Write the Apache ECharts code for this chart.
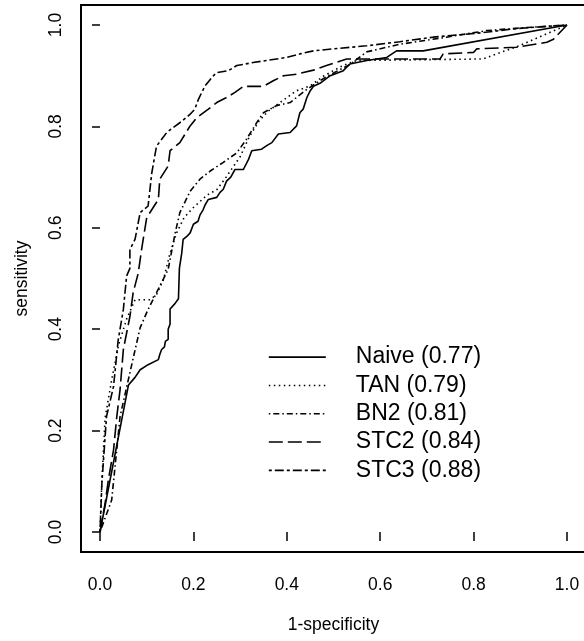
<!DOCTYPE html>
<html>
<head>
<meta charset="utf-8">
<script src="https://cdn.jsdelivr.net/npm/echarts@6/dist/echarts.min.js"></script>
<style>
html,body{margin:0;padding:0;background:#fff;}
#chart{width:584px;height:641px;}
</style>
</head>
<body>
<div id="chart"></div>
<script>
var seriesNames = ['Naive (0.77)', 'TAN (0.79)', 'BN2 (0.81)', 'STC2 (0.84)', 'STC3 (0.88)'];
var xTicks = [0, 0.2, 0.4, 0.6, 0.8, 1.0];
var yTicks = [0, 0.2, 0.4, 0.6, 0.8, 1.0];

var naive = [[0,0],[0.061,0.29],[0.075,0.305],[0.086,0.32],[0.103,0.33],[0.125,0.34],[0.128,0.35],[0.132,0.36],[0.138,0.365],[0.14,0.376],[0.146,0.38],[0.146,0.40],[0.15,0.41],[0.15,0.44],[0.16,0.45],[0.168,0.46],[0.17,0.52],[0.175,0.55],[0.178,0.577],[0.186,0.583],[0.193,0.59],[0.2,0.607],[0.21,0.613],[0.214,0.625],[0.221,0.636],[0.225,0.645],[0.232,0.656],[0.25,0.66],[0.257,0.67],[0.264,0.676],[0.271,0.692],[0.28,0.70],[0.289,0.715],[0.307,0.715],[0.318,0.735],[0.325,0.752],[0.346,0.755],[0.357,0.762],[0.368,0.768],[0.382,0.785],[0.407,0.788],[0.421,0.801],[0.428,0.827],[0.435,0.834],[0.443,0.857],[0.45,0.87],[0.457,0.879],[0.471,0.885],[0.493,0.9],[0.521,0.91],[0.535,0.923],[0.571,0.93],[0.614,0.936],[0.635,0.949],[0.692,0.949],[1,1]];

var tan = [[0,0],[0.004,0.1],[0.011,0.225],[0.025,0.3],[0.04,0.37],[0.057,0.42],[0.075,0.458],[0.107,0.458],[0.121,0.468],[0.136,0.498],[0.15,0.55],[0.164,0.59],[0.18,0.62],[0.2,0.64],[0.23,0.665],[0.25,0.675],[0.27,0.7],[0.3,0.74],[0.32,0.78],[0.34,0.81],[0.36,0.83],[0.39,0.85],[0.42,0.87],[0.45,0.88],[0.48,0.9],[0.52,0.92],[0.55,0.93],[0.82,0.933],[0.9,0.96],[1,1]];

var bn2 = [[0,0],[0.025,0.063],[0.043,0.228],[0.064,0.314],[0.086,0.403],[0.103,0.439],[0.121,0.472],[0.146,0.518],[0.161,0.59],[0.171,0.63],[0.193,0.672],[0.214,0.696],[0.236,0.712],[0.264,0.729],[0.293,0.748],[0.314,0.775],[0.336,0.808],[0.35,0.827],[0.378,0.841],[0.407,0.847],[0.443,0.873],[0.471,0.89],[0.489,0.9],[0.535,0.922],[0.571,0.947],[0.642,0.962],[0.742,0.976],[0.828,0.989],[0.914,0.995],[1,1]];

var stc2 = [[0,0],[0.011,0.057],[0.018,0.103],[0.029,0.162],[0.036,0.228],[0.043,0.281],[0.05,0.36],[0.064,0.425],[0.071,0.472],[0.082,0.511],[0.089,0.557],[0.093,0.58],[0.1,0.62],[0.125,0.656],[0.128,0.696],[0.146,0.722],[0.15,0.752],[0.171,0.768],[0.193,0.801],[0.207,0.817],[0.232,0.834],[0.25,0.847],[0.271,0.857],[0.289,0.867],[0.307,0.879],[0.35,0.879],[0.371,0.89],[0.393,0.9],[0.421,0.903],[0.457,0.911],[0.485,0.92],[0.528,0.933],[0.728,0.933],[0.735,0.943],[0.8,0.946],[0.807,0.953],[0.892,0.956],[0.957,0.966],[0.971,0.972],[1,1]];

var stc3 = [[0,0],[0.004,0.096],[0.014,0.228],[0.029,0.287],[0.039,0.379],[0.05,0.439],[0.057,0.505],[0.064,0.52],[0.064,0.557],[0.075,0.577],[0.086,0.63],[0.103,0.643],[0.111,0.709],[0.121,0.761],[0.143,0.788],[0.157,0.798],[0.175,0.81],[0.193,0.824],[0.203,0.834],[0.211,0.854],[0.225,0.88],[0.243,0.9],[0.25,0.906],[0.275,0.91],[0.293,0.92],[0.328,0.926],[0.357,0.93],[0.4,0.936],[0.428,0.943],[0.457,0.949],[0.5,0.953],[0.571,0.959],[0.642,0.967],[0.713,0.976],[0.82,0.985],[0.892,0.993],[1,1]];

var allData = [naive, tan, bn2, stc2, stc3];
var dashes = ['solid', [1.5, 3.5], [1.5, 3, 6, 3], [14, 5], [3, 3, 9, 3]];

var FONT = 'Liberation Sans, Arial, Helvetica, sans-serif';
var chart = echarts.init(document.getElementById('chart'), null, {renderer: 'canvas'});

var series = seriesNames.map(function (n, i) {
  return {
    name: n,
    type: 'line',
    data: allData[i],
    symbol: 'none',
    showSymbol: false,
    clip: false,
    animation: false,
    lineStyle: {color: '#000', width: 1.6, type: dashes[i]},
    itemStyle: {color: '#000'}
  };
});

chart.setOption({
  animation: false,
  backgroundColor: '#fff',
  grid: {left: 100, right: 17, top: 25, bottom: 109, containLabel: false},
  xAxis: {
    type: 'value', min: 0, max: 1, interval: 0.2, offset: 20,
    name: '1-specificity', nameLocation: 'middle', nameGap: 64,
    nameTextStyle: {color: '#000', fontSize: 17.5, fontFamily: FONT},
    axisLine: {show: false},
    axisTick: {show: true, length: 9, lineStyle: {color: '#000', width: 1.5}},
    axisLabel: {color: '#000', fontSize: 17.5, fontFamily: FONT, margin: 24,
      formatter: function (v) { return v.toFixed(1); }},
    splitLine: {show: false}
  },
  yAxis: {
    type: 'value', min: 0, max: 1, interval: 0.2, offset: 19,
    name: 'sensitivity', nameLocation: 'middle', nameGap: 50, nameRotate: 90,
    nameTextStyle: {color: '#000', fontSize: 17.5, fontFamily: FONT},
    axisLine: {show: false},
    axisTick: {show: true, length: 8, lineStyle: {color: '#000', width: 1.5}},
    axisLabel: {color: '#000', fontSize: 17.5, fontFamily: FONT, margin: 16, rotate: 90,
      formatter: function (v) { return v.toFixed(1); }},
    splitLine: {show: false}
  },
  legend: {
    orient: 'vertical', left: 263, top: 338,
    itemWidth: 57, itemHeight: 14, itemGap: 0,
    data: seriesNames,
    lineStyle: {width: 1.6},
    itemStyle: {opacity: 0, color: 'rgba(0,0,0,0)', borderWidth: 0},
    textStyle: {color: '#000', fontSize: 23, fontFamily: FONT, lineHeight: 28.3, padding: [0, 0, 0, 25]},
    selectedMode: false
  },
  graphic: [{
    type: 'rect', silent: true,
    shape: {x: 81, y: 5, width: 506, height: 547},
    style: {fill: 'none', stroke: '#000', lineWidth: 2}
  }],
  series: series
});
</script>
</body>
</html>
